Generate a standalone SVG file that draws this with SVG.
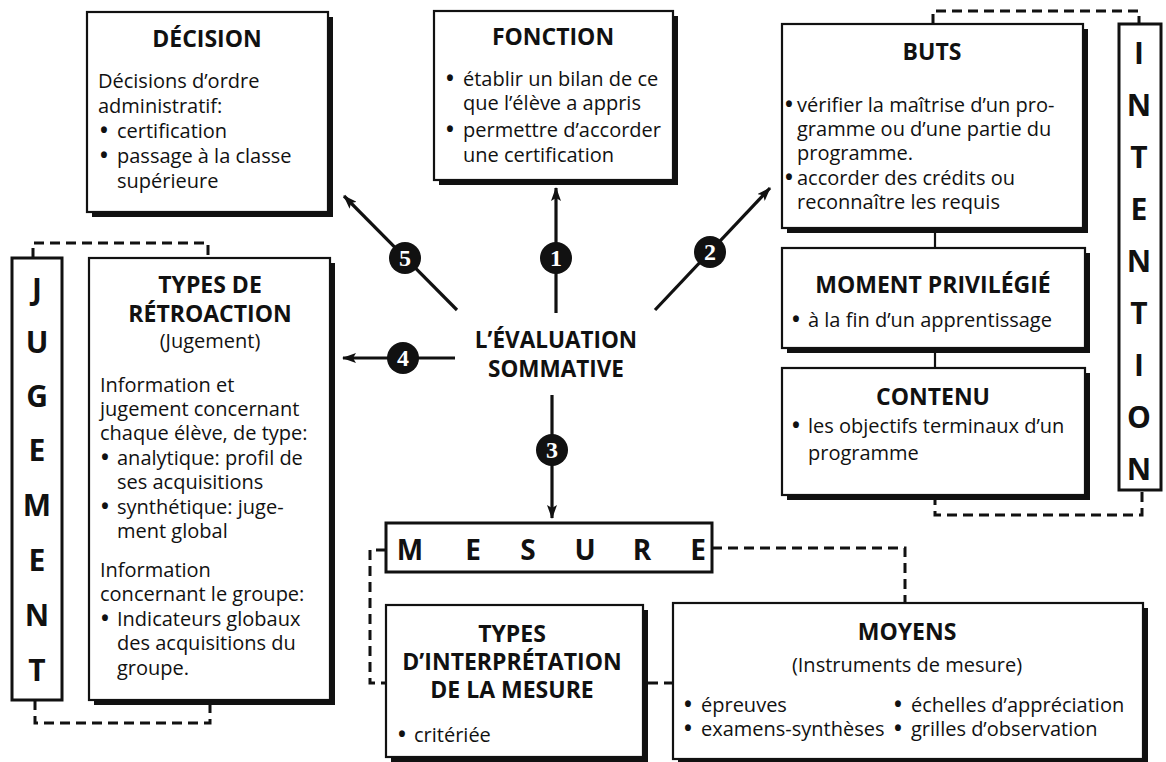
<svg xmlns="http://www.w3.org/2000/svg" width="1166" height="762" viewBox="0 0 1166 762">
<defs>
<style>
.bx{fill:#fff;stroke:#111;stroke-width:2.2}
.fr{fill:#fff;stroke:#111;stroke-width:3}
.sh{fill:#111}
.t{font-family:"Open Sans","Liberation Sans",sans-serif;font-size:20px;fill:#111}
.b{font-weight:bold;font-size:21px}
.h{font-family:"Open Sans","Liberation Sans",sans-serif;font-size:23px;font-weight:bold;fill:#111;text-anchor:middle}
.c{text-anchor:middle}
.big{font-family:"Open Sans","Liberation Sans",sans-serif;font-size:30px;font-weight:bold;fill:#111;text-anchor:middle}
.dash{fill:none;stroke:#111;stroke-width:3;stroke-dasharray:10 6}
.ln{fill:none;stroke:#111;stroke-width:2.2}
.ar{fill:none;stroke:#111;stroke-width:3.2}
.num{fill:#111}
.nt{font-family:"Liberation Serif",serif;font-size:24px;font-weight:bold;fill:#fff;text-anchor:middle}
</style>
<marker id="ah" viewBox="0 0 14 10" refX="13" refY="5" markerWidth="14" markerHeight="10" markerUnits="userSpaceOnUse" orient="auto">
<path d="M0,0 L14,5 L0,10 L3,5 z" fill="#111"/>
</marker>
</defs>
<rect width="1166" height="762" fill="#fff"/>

<g id="connectors">
<line class="ar" x1="556" y1="313" x2="556" y2="188" marker-end="url(#ah)"/>
<line class="ar" x1="457" y1="310" x2="344" y2="196" marker-end="url(#ah)"/>
<line class="ar" x1="655" y1="310" x2="770" y2="188" marker-end="url(#ah)"/>
<line class="ar" x1="455" y1="358" x2="343" y2="358" marker-end="url(#ah)"/>
<line class="ar" x1="552" y1="395" x2="552" y2="518" marker-end="url(#ah)"/>
<line class="ln" x1="935" y1="228" x2="935" y2="248"/>
<line class="ln" x1="935" y1="348" x2="935" y2="368"/>
<path class="dash" d="M933,24 V11 H1139 V24"/>
<path class="dash" d="M935,495 V515 H1142 V490"/>
<path class="dash" d="M33,258 V243 H208 V258"/>
<path class="dash" d="M35,700 V723 H210 V705"/>
<path class="dash" d="M386,550 H370 V683 H386"/>
<path class="dash" d="M712,548 H905 V603"/>
<path class="dash" d="M648,683 H673"/>
</g>

<g id="badges">
<circle class="num" cx="556" cy="258" r="16"/><text class="nt" x="556" y="266">1</text>
<circle class="num" cx="710" cy="252" r="16"/><text class="nt" x="710" y="260">2</text>
<circle class="num" cx="552" cy="450" r="16"/><text class="nt" x="552" y="458">3</text>
<circle class="num" cx="403" cy="358" r="16"/><text class="nt" x="403" y="366">4</text>
<circle class="num" cx="405" cy="258" r="16"/><text class="nt" x="405" y="266">5</text>
</g>

<g id="center">
<text class="h" x="556" y="348" style="font-size:22.5px">L’ÉVALUATION</text>
<text class="h" x="556" y="377" style="font-size:22.5px">SOMMATIVE</text>
</g>

<g id="decision">
<rect class="sh" x="92" y="17" width="241" height="200"/>
<rect class="bx" x="87" y="12" width="241" height="200"/>
<text class="h" x="207" y="47">DÉCISION</text>
<text class="t" x="98" y="88">Décisions d’ordre</text>
<text class="t" x="98" y="113">administratif:</text>
<text class="t" y="138"><tspan class="b" x="100">•</tspan><tspan x="117">certification</tspan></text>
<text class="t" y="163"><tspan class="b" x="100">•</tspan><tspan x="117">passage à la classe</tspan></text>
<text class="t" x="117" y="188">supérieure</text>
</g>

<g id="fonction">
<rect class="sh" x="439" y="16" width="239" height="169"/>
<rect class="bx" x="434" y="11" width="239" height="169"/>
<text class="h" x="553" y="45">FONCTION</text>
<text class="t" y="86"><tspan class="b" x="446">•</tspan><tspan x="463">établir un bilan de ce</tspan></text>
<text class="t" x="463" y="110">que l’élève a appris</text>
<text class="t" y="137"><tspan class="b" x="446">•</tspan><tspan x="463">permettre d’accorder</tspan></text>
<text class="t" x="463" y="162">une certification</text>
</g>

<g id="buts">
<rect class="sh" x="787" y="29" width="301" height="204"/>
<rect class="bx" x="782" y="24" width="301" height="204"/>
<text class="h" x="932" y="60">BUTS</text>
<text class="t" y="112"><tspan class="b" x="785">•</tspan><tspan x="797">vérifier la maîtrise d’un pro-</tspan></text>
<text class="t" x="797" y="136">gramme ou d’une partie du</text>
<text class="t" x="797" y="160">programme.</text>
<text class="t" y="185"><tspan class="b" x="785">•</tspan><tspan x="797">accorder des crédits ou</tspan></text>
<text class="t" x="797" y="209">reconnaître les requis</text>
</g>

<g id="moment">
<rect class="sh" x="787" y="253" width="303" height="100"/>
<rect class="bx" x="782" y="248" width="303" height="100"/>
<text class="h" x="933" y="293">MOMENT PRIVILÉGIÉ</text>
<text class="t" y="327"><tspan class="b" x="792">•</tspan><tspan x="808">à la fin d’un apprentissage</tspan></text>
</g>

<g id="contenu">
<rect class="sh" x="787" y="373" width="303" height="127"/>
<rect class="bx" x="782" y="368" width="303" height="127"/>
<text class="h" x="933" y="405">CONTENU</text>
<text class="t" y="433"><tspan class="b" x="792">•</tspan><tspan x="808">les objectifs terminaux d’un</tspan></text>
<text class="t" x="808" y="460">programme</text>
</g>

<g id="intention">
<rect class="fr" x="1119" y="24" width="42" height="466"/>
<text class="big" x="1139" y="64">I</text>
<text class="big" x="1139" y="116">N</text>
<text class="big" x="1139" y="168">T</text>
<text class="big" x="1139" y="220">E</text>
<text class="big" x="1139" y="272">N</text>
<text class="big" x="1139" y="324">T</text>
<text class="big" x="1139" y="376">I</text>
<text class="big" x="1139" y="428">O</text>
<text class="big" x="1139" y="480">N</text>
</g>

<g id="jugement">
<rect class="fr" x="12" y="258" width="50" height="442"/>
<text class="big" x="37" y="300">J</text>
<text class="big" x="37" y="353">U</text>
<text class="big" x="37" y="407">G</text>
<text class="big" x="37" y="461">E</text>
<text class="big" x="37" y="516">M</text>
<text class="big" x="37" y="571">E</text>
<text class="big" x="37" y="626">N</text>
<text class="big" x="37" y="681">T</text>
</g>

<g id="retroaction">
<rect class="sh" x="94" y="263" width="241" height="442"/>
<rect class="bx" x="89" y="258" width="241" height="442"/>
<text class="h" x="210" y="293">TYPES DE</text>
<text class="h" x="210" y="322">RÉTROACTION</text>
<text class="t c" x="210" y="348">(Jugement)</text>
<text class="t" x="100" y="392">Information et</text>
<text class="t" x="100" y="416">jugement concernant</text>
<text class="t" x="100" y="440">chaque élève, de type:</text>
<text class="t" y="465"><tspan class="b" x="101">•</tspan><tspan x="117">analytique: profil de</tspan></text>
<text class="t" x="117" y="489">ses acquisitions</text>
<text class="t" y="514"><tspan class="b" x="101">•</tspan><tspan x="117">synthétique: juge-</tspan></text>
<text class="t" x="117" y="538">ment global</text>
<text class="t" x="100" y="577">Information</text>
<text class="t" x="100" y="601">concernant le groupe:</text>
<text class="t" y="626"><tspan class="b" x="101">•</tspan><tspan x="117">Indicateurs globaux</tspan></text>
<text class="t" x="117" y="650">des acquisitions du</text>
<text class="t" x="117" y="675">groupe.</text>
</g>

<g id="mesure">
<rect class="fr" x="386" y="523" width="326" height="49"/>
<text class="big" style="font-size:28px" x="410" y="560">M</text>
<text class="big" style="font-size:28px" x="473" y="560">E</text>
<text class="big" style="font-size:28px" x="528" y="560">S</text>
<text class="big" style="font-size:28px" x="585" y="560">U</text>
<text class="big" style="font-size:28px" x="642" y="560">R</text>
<text class="big" style="font-size:28px" x="698" y="560">E</text>
</g>

<g id="interpretation">
<rect class="sh" x="391" y="610" width="257" height="152"/>
<rect class="bx" x="386" y="605" width="257" height="152"/>
<text class="h" x="512" y="642">TYPES</text>
<text class="h" x="512" y="670">D’INTERPRÉTATION</text>
<text class="h" x="512" y="698">DE LA MESURE</text>
<text class="t" y="742"><tspan class="b" x="398">•</tspan><tspan x="414">critériée</tspan></text>
</g>

<g id="moyens">
<rect class="sh" x="678" y="608" width="470" height="156"/>
<rect class="bx" x="673" y="603" width="470" height="156"/>
<text class="h" x="907" y="640">MOYENS</text>
<text class="t c" x="907" y="672">(Instruments de mesure)</text>
<text class="t" y="712"><tspan class="b" x="684">•</tspan><tspan x="701">épreuves</tspan><tspan class="b" x="894">•</tspan><tspan x="911">échelles d’appréciation</tspan></text>
<text class="t" y="736"><tspan class="b" x="684">•</tspan><tspan x="701">examens-synthèses</tspan><tspan class="b" x="894">•</tspan><tspan x="911">grilles d’observation</tspan></text>
</g>
</svg>
